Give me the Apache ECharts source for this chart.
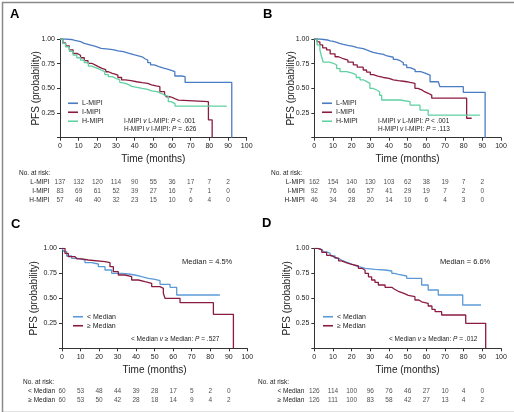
<!DOCTYPE html>
<html><head><meta charset="utf-8">
<script src="https://cdn.jsdelivr.net/npm/echarts@6/dist/echarts.min.js"></script>
<style>html,body{margin:0;padding:0;background:#fff}#c{width:514px;height:412px}</style>
</head><body><div id="c"></div>
<script>
// ---------- DATA ----------
const timeTicks = [0,10,20,30,40,50,60,70,80,90];
// Panel A
const aNames = ['L-MIPI','I-MIPI','H-MIPI'];
const aL = [[0,1],[3,0.995],[6,0.985],[8,0.973],[11,0.955],[13,0.94],[16,0.925],[19,0.906],[22,0.897],[26,0.889],[29,0.88],[31,0.871],[34,0.855],[37,0.838],[40,0.828],[42,0.82],[44,0.80],[45.5,0.787],[47,0.76],[48.5,0.737],[50.5,0.72],[53,0.705],[55.5,0.693],[58,0.68],[60,0.67],[61.5,0.625],[65,0.618],[67,0.56],[92,0.56],[92,0]];
const aI = [[0,1],[1.5,0.96],[3,0.93],[5,0.89],[7,0.855],[9,0.835],[11,0.81],[13,0.78],[15,0.754],[17,0.735],[19,0.72],[20.5,0.703],[22.5,0.69],[24.5,0.668],[26,0.652],[28,0.645],[29.5,0.635],[31,0.61],[33,0.585],[35,0.578],[38,0.567],[41,0.558],[44,0.55],[47,0.535],[49,0.524],[51.5,0.517],[53.5,0.466],[56,0.44],[57,0.415],[59,0.4],[61,0.38],[63.4,0.365],[79.5,0.18],[81.5,0]];
const aH = [[0,1],[1.5,0.955],[3,0.92],[5,0.875],[7,0.838],[9,0.81],[11,0.785],[13,0.76],[15.2,0.726],[17,0.71],[19,0.70],[20.5,0.686],[22,0.67],[24,0.64],[25.9,0.618],[28,0.60],[30,0.585],[32,0.56],[33,0.55],[35,0.535],[37,0.52],[38.4,0.5],[44,0.49],[47,0.475],[49,0.466],[52,0.45],[54,0.43],[56.2,0.42],[58,0.365],[59.5,0.345],[61.6,0.32],[89.3,0.32]];
const aRiskL = [137,132,120,114,90,55,36,17,7,2];
const aRiskI = [83,69,61,52,39,27,16,7,1,0];
const aRiskH = [57,46,40,32,23,15,10,6,4,0];
// Panel B
const bL = [[0,1],[3,0.995],[5.2,0.99],[7,0.982],[8.5,0.975],[10.2,0.965],[12,0.955],[13.5,0.945],[15.5,0.935],[18,0.925],[20.9,0.912],[23,0.902],[26.2,0.889],[28,0.875],[30,0.865],[31.6,0.855],[34,0.845],[37,0.828],[39,0.815],[42.3,0.794],[44,0.78],[46,0.76],[47.7,0.737],[49.5,0.71],[51.3,0.69],[54,0.669],[57,0.655],[59.3,0.635],[62,0.567],[66.4,0.557],[67.3,0.517],[79.8,0.46],[91.5,0]];
const bI = [[0,1],[1.5,0.97],[3,0.94],[4.5,0.91],[6.6,0.889],[8.5,0.85],[11.1,0.82],[13,0.80],[15.5,0.787],[18,0.765],[20.9,0.737],[23,0.715],[26.2,0.686],[28,0.665],[30,0.64],[31.6,0.625],[34,0.61],[37,0.601],[40,0.585],[42.3,0.578],[45,0.572],[47.7,0.567],[49.5,0.56],[51.3,0.551],[53.9,0.5],[55.5,0.485],[57.5,0.466],[59,0.45],[61,0.432],[62.9,0.40],[81.6,0.197],[84.3,0.197]];
const bH = [[0,1],[1.5,0.94],[3,0.889],[3.9,0.82],[4.8,0.765],[8,0.754],[10.2,0.737],[12,0.70],[13.8,0.669],[17.4,0.652],[20.9,0.635],[22.5,0.61],[24.5,0.585],[26.5,0.568],[28.1,0.551],[29.8,0.50],[31.5,0.483],[33.4,0.466],[35,0.43],[36.1,0.382],[46,0.365],[51.3,0.331],[56.6,0.28],[61,0.229],[88.7,0.229]];
const bRiskL = [162,154,140,130,103,62,38,19,7,2];
const bRiskI = [92,76,66,57,41,29,19,7,2,0];
const bRiskH = [46,34,28,20,14,10,6,4,3,0];
// Panel C
const mNames = ['< Median','≥ Median'];
const cLow = [[0,1],[1,0.97],[2.5,0.923],[5.2,0.9],[8.8,0.883],[12.4,0.856],[16,0.843],[19.6,0.816],[23.2,0.783],[26.8,0.75],[32.2,0.743],[35.8,0.733],[39.4,0.716],[43,0.70],[46.6,0.69],[50.2,0.676],[52.9,0.64],[58.3,0.61],[61.9,0.533],[85.2,0.533]];
const cHigh = [[0,1],[1.6,0.95],[3.4,0.916],[7,0.91],[8,0.895],[10.6,0.883],[14.2,0.866],[23.2,0.856],[25.9,0.816],[27.7,0.766],[30.4,0.733],[34,0.716],[37.6,0.683],[41.2,0.666],[44.8,0.65],[48.4,0.616],[52.9,0.6],[54.7,0.55],[55.6,0.5],[63.7,0.456],[81.7,0.34],[92.5,0]];
const cRiskLow = [60,53,48,44,39,28,17,5,2,0];
const cRiskHigh = [60,53,50,42,28,18,14,9,4,2];
// Panel D
const dLow = [[0,1],[2,0.99],[4,0.983],[5,0.965],[6.6,0.95],[8.5,0.925],[11.1,0.9],[13,0.88],[14.7,0.866],[16.5,0.855],[18.2,0.843],[20,0.83],[21.8,0.816],[24,0.80],[27.2,0.79],[32.5,0.783],[37.9,0.773],[41.5,0.75],[43,0.74],[45,0.723],[49.5,0.70],[57.5,0.633],[61,0.583],[66.4,0.533],[79.5,0.433],[89.3,0.433]];
const dHigh = [[0,1],[2,0.985],[4,0.96],[6.6,0.93],[9,0.91],[11.1,0.9],[13,0.875],[14.7,0.856],[17,0.84],[20,0.823],[23.6,0.80],[25.5,0.78],[27.2,0.75],[29,0.715],[30.7,0.683],[32.5,0.66],[34.3,0.633],[37.9,0.61],[41.5,0.59],[43,0.57],[45,0.55],[48,0.53],[50.4,0.516],[53.9,0.483],[56,0.465],[57.5,0.45],[61,0.423],[63,0.39],[64.7,0.366],[68.2,0.333],[81.1,0.25],[91.8,0]];
const dRiskLow = [126,114,100,96,76,46,27,10,4,0];
const dRiskHigh = [126,111,100,83,58,42,27,13,4,2];

// ---------- STYLE ----------
const FONT = "'Liberation Sans',Arial,sans-serif";
const C_L = '#4a7cc4', C_I = '#8c1c3f', C_H = '#5fd1a2', C_LOW = '#5b9ad6', C_HIGH = '#8c1c3f';
const AX = '#333', TX = '#222';

const plots = [
  {left:60, top:39, width:186.7, height:98.7, ygap:18.5},
  {left:314.3, top:39, width:186.7, height:98.7, ygap:18.5},
  {left:62, top:248.3, width:185.3, height:100, ygap:22.5},
  {left:314.3, top:248.3, width:186.7, height:100, ygap:22}
];
const risks = [
  {left:60, width:186.7, top:177.2, rows:aNames, margin:10.5, vals:[aRiskL,aRiskI,aRiskH]},
  {left:314.3, width:186.7, top:177.2, rows:aNames, margin:9.5, vals:[bRiskL,bRiskI,bRiskH]},
  {left:62, width:185.3, top:386.6, rows:mNames, margin:7, vals:[cRiskLow,cRiskHigh]},
  {left:314.3, width:186.7, top:386.6, rows:mNames, margin:10, vals:[dRiskLow,dRiskHigh]}
];

const grid = [], xAxis = [], yAxis = [], series = [];
plots.forEach((p,i)=>{
  grid.push({left:p.left, top:p.top, width:p.width, height:p.height, containLabel:false});
  xAxis.push({type:'value', gridIndex:i, min:0, max:100, interval:10,
    axisLine:{show:true, lineStyle:{color:AX, width:1}},
    axisTick:{show:true, length:3, lineStyle:{color:AX}},
    axisLabel:{fontSize:7, color:TX, margin:5, fontFamily:FONT},
    splitLine:{show:false},
    name:'Time (months)', nameLocation:'middle', nameGap:16.5, nameMoveOverlap:false,
    nameTextStyle:{fontSize:10, color:TX, fontFamily:FONT}});
  yAxis.push({type:'value', gridIndex:i, min:0, max:1, interval:0.25,
    axisLine:{show:true, lineStyle:{color:AX, width:1}},
    axisTick:{show:true, length:3, lineStyle:{color:AX}},
    axisLabel:{fontSize:7, color:TX, margin:5, fontFamily:FONT, formatter:v=> v===0?'':v.toFixed(2)},
    splitLine:{show:false},
    name:'PFS (probability)', nameLocation:'middle', nameGap:p.ygap, nameRotate:90, nameMoveOverlap:false,
    nameTextStyle:{fontSize:10, color:TX, fontFamily:FONT}});
});
risks.forEach((r,k)=>{
  const gi = 4+k;
  const rowH = (k<2)?9.2:9.4;
  grid.push({left:r.left, top:r.top, width:r.width, height:rowH*r.rows.length});
  xAxis.push({type:'value', gridIndex:gi, min:0, max:100, show:false});
  yAxis.push({type:'category', gridIndex:gi, data:r.rows, inverse:true,
    axisLine:{show:false}, axisTick:{show:false}, splitLine:{show:false},
    axisLabel:{fontSize:6.5, color:TX, margin:r.margin, fontFamily:FONT}});
  r.rows.forEach((name,j)=>{
    series.push({type:'scatter', xAxisIndex:gi, yAxisIndex:gi, symbol:'circle', symbolSize:1,
      itemStyle:{color:'transparent'}, silent:true,
      label:{show:true, position:'inside', fontSize:6.5, color:TX, fontFamily:FONT, formatter:q=>String(q.value[2])},
      data: timeTicks.map((t,m)=>[t, name, r.vals[j][m]])});
  });
});

function km(name, data, color, idx){
  return {type:'line', name, data, step:'end', symbol:'none', xAxisIndex:idx, yAxisIndex:idx,
    lineStyle:{color, width:1.3}, itemStyle:{color}, z:3};
}
series.push(km('L-MIPI', aL, C_L, 0), km('I-MIPI', aI, C_I, 0), km('H-MIPI', aH, C_H, 0));
series.push(km('L-MIPI', bL, C_L, 1), km('I-MIPI', bI, C_I, 1), km('H-MIPI', bH, C_H, 1));
series.push(km('< Median', cLow, C_LOW, 2), km('≥ Median', cHigh, C_HIGH, 2));
series.push(km('< Median', dLow, C_LOW, 3), km('≥ Median', dHigh, C_HIGH, 3));

function leg(left, top, data){
  return {left, top, orient:'vertical', data, icon:'rect', itemWidth:10, itemHeight:1.6, itemGap:0.5,
    selectedMode:false, textStyle:{fontSize:7, color:TX, fontFamily:FONT, padding:[0,0,0,-1], lineHeight:8.5}, padding:0};
}
const legend = [leg(68,99,aNames), leg(322,99,aNames), leg(73,312.5,mNames), leg(323,312.5,mNames)];

const rich = {i:{fontStyle:'italic', fontWeight:'normal', fontSize:6.5, color:TX, fontFamily:FONT}, n:{fontWeight:'normal', fontSize:6.5, color:TX, fontFamily:FONT}};
function t(text, left, top, size, bold){
  return {text, left, top, padding:0, textStyle:{fontSize:size, fontWeight:bold?'bold':'normal', color:bold?'#000':TX, fontFamily:FONT}};
}
function rt(text, left, top){
  return {text, left, top, padding:0, textStyle:{rich, fontWeight:'normal', lineHeight:7.5}};
}
const title = [
  t('A', 10, 8, 13, true), t('B', 263, 8, 13, true), t('C', 11, 218, 13, true), t('D', 262, 217, 13, true),
  rt('{n|I-MIPI }{i|v}{n| L-MIPI: }{i|P}{n| < .001}\n{n|H-MIPI }{i|v}{n| I-MIPI: }{i|P}{n| = .626}', 124, 117.5),
  rt('{n|I-MIPI }{i|v}{n| L-MIPI: }{i|P}{n| < .001}\n{n|H-MIPI }{i|v}{n| I-MIPI: }{i|P}{n| = .113}', 378, 117.5),
  rt('{n|< Median }{i|v}{n| ≥ Median: }{i|P}{n| = .527}', 131, 335.5),
  rt('{n|< Median }{i|v}{n| ≥ Median: }{i|P}{n| = .012}', 389, 335.5),
  t('Median = 4.5%', 182, 258, 7.5), t('Median = 6.6%', 440, 258, 7.5),
  t('No. at risk:', 19, 169.5, 6.5), t('No. at risk:', 271, 169.5, 6.5), t('No. at risk:', 23, 379, 6.5), t('No. at risk:', 258, 379, 6.5)
];

const chart = echarts.init(document.getElementById('c'), null, {renderer:'canvas'});
chart.setOption({
  animation:false, backgroundColor:'#fff', title, legend, grid, xAxis, yAxis, series,
  graphic:[{type:'rect', left:0, top:0, shape:{x:0.5,y:0.5,width:512.5,height:410}, style:{fill:'none', stroke:'#8a8a8a', lineWidth:1.5}, silent:true}]
});
</script></body></html>
